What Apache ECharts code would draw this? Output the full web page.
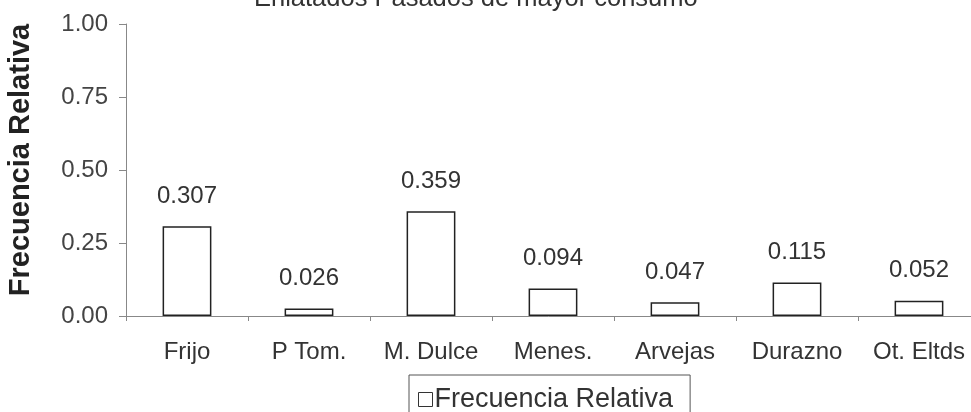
<!DOCTYPE html>
<html>
<head>
<meta charset="utf-8">
<script src="https://cdn.jsdelivr.net/npm/echarts@6/dist/echarts.min.js"></script>
<style>
html,body{margin:0;padding:0;background:#fff;}
#chart{width:971px;height:412px;}
</style>
</head>
<body>
<div id="chart"></div>
<script>
const titleText = 'Enlatados Pasados de mayor consumo';
const categories = ['Frijo', 'P Tom.', 'M. Dulce', 'Menes.', 'Arvejas', 'Durazno', 'Ot. Eltds'];
const values = [0.307, 0.026, 0.359, 0.094, 0.047, 0.115, 0.052];
const seriesName = 'Frecuencia Relativa';
const yAxisName = 'Frecuencia Relativa';

const FONT = '"Liberation Sans", Arial, sans-serif';
const chart = echarts.init(document.getElementById('chart'), null, {renderer: 'canvas'});
chart.setOption({
  animation: false,
  backgroundColor: '#fff',
  textStyle: {fontFamily: FONT},
  title: {
    text: titleText,
    left: 249,
    top: -19,
    textStyle: {fontFamily: FONT, fontSize: 25.5, fontWeight: 'normal', color: '#333'}
  },
  grid: {left: 126, top: 24, width: 854, height: 292, containLabel: false, outerBoundsMode: 'none'},
  legend: {
    data: [seriesName],
    left: 409,
    top: 375,
    padding: [11, 17, 12, 9],
    borderColor: '#555',
    borderWidth: 1,
    itemWidth: 14,
    itemHeight: 14,
    itemGap: 4,
    icon: 'rect',
    itemStyle: {color: '#fff', borderColor: '#333', borderWidth: 1},
    textStyle: {fontFamily: FONT, fontSize: 27, color: '#333', padding: [0, 0, 0, -3]}
  },
  xAxis: {
    type: 'category',
    data: categories,
    axisLine: {lineStyle: {color: '#888', width: 1}},
    axisTick: {show: true, length: 5, lineStyle: {color: '#888'}},
    axisLabel: {fontFamily: FONT, fontSize: 24, color: '#333', margin: 24, interval: 0, hideOverlap: false},
    splitLine: {show: false}
  },
  yAxis: {
    type: 'value',
    min: 0, max: 1, interval: 0.25,
    name: yAxisName,
    nameLocation: 'middle',
    nameGap: 91,
    nameTextStyle: {fontFamily: FONT, fontSize: 29, fontWeight: 'bold', color: '#222', padding: [0, 0, 0, 20]},
    axisLine: {show: true, lineStyle: {color: '#888', width: 1}},
    axisTick: {show: true, length: 7, lineStyle: {color: '#888'}},
    axisLabel: {fontFamily: FONT, fontSize: 24, color: '#444', margin: 18,
      formatter: v => v.toFixed(2)},
    splitLine: {show: false}
  },
  series: [{
    name: seriesName,
    type: 'bar',
    data: values,
    barWidth: '40%',
    itemStyle: {color: '#fff', borderColor: '#222', borderWidth: 1.5},
    label: {show: true, position: 'top', distance: 18, fontFamily: FONT, fontSize: 24, color: '#333',
      formatter: p => p.value.toFixed(3)}
  }]
});
</script>
</body>
</html>
